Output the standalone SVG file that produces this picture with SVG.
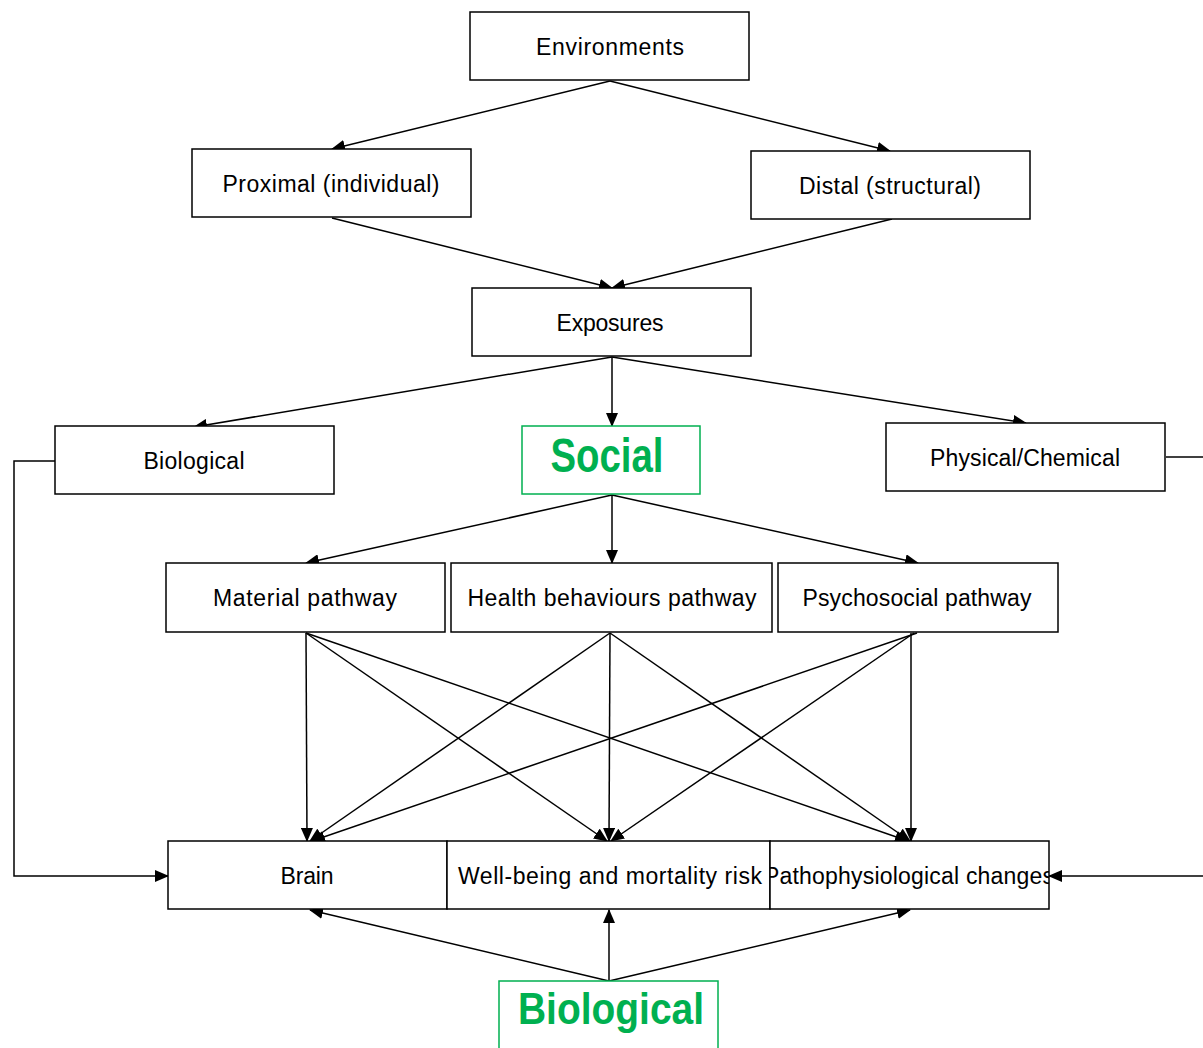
<svg xmlns="http://www.w3.org/2000/svg" width="1203" height="1048" viewBox="0 0 1203 1048">
<style>
.box{fill:#fff;stroke:#000;stroke-width:1.5}
.gbox{fill:#fff;stroke:#00B050;stroke-width:1.5}
.t{font-family:"Liberation Sans",Arial,sans-serif;font-size:23px;fill:#000;text-anchor:middle}
.g{font-family:"Liberation Sans",Arial,sans-serif;font-weight:bold;fill:#00B050;text-anchor:middle}
.c line,.c polyline{stroke:#000;stroke-width:1.5;fill:none;marker-end:url(#ah)}
</style>
<defs>
<marker id="ah" markerUnits="userSpaceOnUse" markerWidth="14" markerHeight="12" viewBox="0 0 14 12" refX="13" refY="6" orient="auto">
<path d="M0,0 L14,6 L0,12 z" fill="#000"/>
</marker>
<clipPath id="cp"><rect x="770" y="841" width="279" height="68"/></clipPath>
</defs>
<g class="c" id="connectors">
<line x1="610" y1="81" x2="332" y2="149"/>
<line x1="610" y1="81" x2="890" y2="151"/>
<line x1="332" y1="218" x2="612" y2="288"/>
<line x1="892" y1="219" x2="612" y2="288"/>
<line x1="612" y1="357" x2="194" y2="427"/>
<line x1="612" y1="357" x2="612" y2="426"/>
<line x1="612" y1="357" x2="1026" y2="423"/>
<line x1="612" y1="495" x2="306" y2="563"/>
<line x1="612" y1="495" x2="612" y2="563"/>
<line x1="612" y1="495" x2="918" y2="563"/>
<line x1="306" y1="633" x2="307" y2="841"/>
<line x1="306" y1="633" x2="607" y2="841"/>
<line x1="306" y1="633" x2="908" y2="841"/>
<line x1="610" y1="633" x2="310" y2="841"/>
<line x1="610" y1="633" x2="609" y2="841"/>
<line x1="610" y1="633" x2="910" y2="841"/>
<line x1="917" y1="633" x2="312" y2="841"/>
<line x1="914" y1="633" x2="611" y2="841"/>
<line x1="911" y1="633" x2="911" y2="841"/>
<polyline points="55,461 14,461 14,876 168,876"/>
<line x1="1166" y1="457" x2="1203" y2="457" style="marker-end:none"/>
<line x1="1203" y1="876" x2="1049" y2="876"/>
<line x1="609" y1="981" x2="310" y2="910"/>
<line x1="609" y1="981" x2="609" y2="910"/>
<line x1="609" y1="981" x2="910" y2="910"/>
</g>
<g id="environments"><rect class="box" x="470" y="12" width="279" height="68"/><text class="t" x="610" y="55" textLength="148">Environments</text></g>
<g id="proximal"><rect class="box" x="192" y="149" width="279" height="68"/><text class="t" x="331" y="192" textLength="217">Proximal (individual)</text></g>
<g id="distal"><rect class="box" x="751" y="151" width="279" height="68"/><text class="t" x="890" y="194" textLength="182">Distal (structural)</text></g>
<g id="exposures"><rect class="box" x="472" y="288" width="279" height="68"/><text class="t" x="610" y="331" textLength="107">Exposures</text></g>
<g id="biological"><rect class="box" x="55" y="426" width="279" height="68"/><text class="t" x="194" y="469" textLength="101">Biological</text></g>
<g id="social"><rect class="gbox" x="522" y="426" width="178" height="68"/><text class="g" x="607" y="472" font-size="48" textLength="113" lengthAdjust="spacingAndGlyphs">Social</text></g>
<g id="physical"><rect class="box" x="886" y="423" width="279" height="68"/><text class="t" x="1025" y="466" textLength="190">Physical/Chemical</text></g>
<g id="material"><rect class="box" x="166" y="563" width="279" height="69"/><text class="t" x="305" y="606" textLength="184">Material pathway</text></g>
<g id="health"><rect class="box" x="451" y="563" width="321" height="69"/><text class="t" x="612" y="606" textLength="289">Health behaviours pathway</text></g>
<g id="psychosocial"><rect class="box" x="778" y="563" width="280" height="69"/><text class="t" x="917" y="606" textLength="229">Psychosocial pathway</text></g>
<g id="brain"><rect class="box" x="168" y="841" width="279" height="68"/><text class="t" x="307" y="884" textLength="53">Brain</text></g>
<g id="wellbeing"><rect class="box" x="447" y="841" width="323" height="68"/><text class="t" x="610" y="884" textLength="304">Well-being and mortality risk</text></g>
<g id="patho"><rect class="box" x="770" y="841" width="279" height="68"/><text class="t" x="909" y="884" textLength="290" clip-path="url(#cp)">Pathophysiological changes</text></g>
<g id="biological-bottom"><rect class="gbox" x="499" y="981" width="219" height="80"/><text class="g" x="611" y="1024" font-size="44" textLength="186" lengthAdjust="spacingAndGlyphs">Biological</text></g>
</svg>
